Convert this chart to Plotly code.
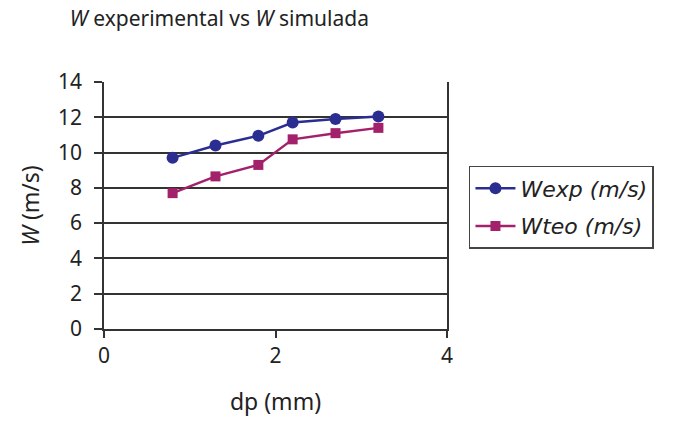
import plotly.graph_objects as go

dp = [0.8, 1.3, 1.8, 2.2, 2.7, 3.2]
w_exp = [9.7, 10.4, 10.95, 11.7, 11.9, 12.05]
w_teo = [7.7, 8.65, 9.3, 10.75, 11.1, 11.4]
series_names = ["Wexp (m/s)", "Wteo (m/s)"]

FONT = "Noto Sans"
fig = go.Figure()
fig.add_trace(go.Scatter(x=dp, y=w_exp, mode="lines+markers", name="<i>" + series_names[0] + "</i>",
                         legendgroup="a",
                         line=dict(color="#2A2E91", width=2.5),
                         marker=dict(symbol="circle", size=12, color="#2A2E91")))
fig.add_trace(go.Scatter(x=dp, y=w_teo, mode="lines+markers", name="<i>" + series_names[1] + "</i>",
                         legendgroup="b",
                         line=dict(color="#A3206B", width=2.5),
                         marker=dict(symbol="square", size=10, color="#A3206B")))

fig.update_layout(
    width=675, height=423,
    margin=dict(l=104, r=228, t=82, b=92),
    paper_bgcolor="white", plot_bgcolor="white",
    font=dict(family=FONT, color="#222222", size=21),
    title=dict(text="<i>W</i> experimental vs <i>W</i> simulada", x=0.325, xanchor="center",
               y=0.955, yanchor="middle", xref="container", yref="container",
               font=dict(size=21, family=FONT, color="#222222")),
    legend=dict(x=1.064, y=0.66, xanchor="left", yanchor="top",
                bordercolor="#444444", borderwidth=1.5, bgcolor="white",
                font=dict(size=22, family="DejaVu Sans", color="#222222"),
                traceorder="grouped", tracegroupgap=6, itemwidth=40),
    showlegend=True,
)
fig.update_xaxes(range=[0, 4], tickvals=[0, 2, 4], showgrid=False, zeroline=False,
                 showline=True, linecolor="#333333", linewidth=1.5,
                 ticks="outside", ticklen=7, tickcolor="#333333", tickwidth=1.5,
                 tickfont=dict(size=21), title=dict(text="dp (mm)", standoff=26, font=dict(size=23)))
fig.update_yaxes(range=[0, 14], tickvals=list(range(0, 15, 2)), showgrid=True, gridcolor="#333333",
                 gridwidth=1.5, zeroline=False, showline=True, mirror=True,
                 linecolor="#333333", linewidth=1.5,
                 ticks="outside", ticklen=8, tickcolor="#333333", tickwidth=1.5,
                 ticklabelstandoff=8,
                 tickfont=dict(size=21), title=dict(text="<i>W</i> (m/s)", standoff=12, font=dict(size=23)))

fig.write_html("out.html")
